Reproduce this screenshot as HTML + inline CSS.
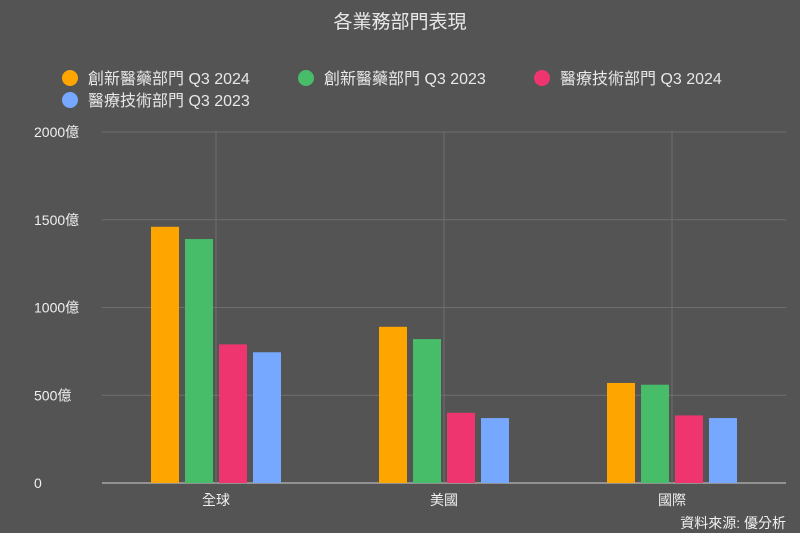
<!DOCTYPE html>
<html><head><meta charset="utf-8"><style>
body{margin:0;background:#545454;}
svg{display:block;font-family:"Liberation Sans","Noto Sans CJK TC",sans-serif;}
</style></head><body>
<svg id="chart" width="800" height="533">
<rect width="800" height="533" fill="#545454"/>
<text x="400" y="28" text-anchor="middle" font-size="19" fill="#e8e8e8">各業務部門表現</text>
<g id="legend"></g>
<g id="grid"></g><g id="bars"></g><g id="labels"></g>
<text x="786" y="528" text-anchor="end" font-size="14" fill="#f0f0f0">資料來源: 優分析</text>
</svg>
<script>
const categories=["全球","美國","國際"];
const seriesNames=["創新醫藥部門 Q3 2024","創新醫藥部門 Q3 2023","醫療技術部門 Q3 2024","醫療技術部門 Q3 2023"];
const s1=[1460,890,570];
const s2=[1390,820,560];
const s3=[790,400,385];
const s4=[745,370,370];
const yTicks=[0,500,1000,1500,2000];
const yTickLabels=["0","500億","1000億","1500億","2000億"];
const colors=["#ffa500","#47bd6a","#ee3570","#77a8ff"];
const series=[s1,s2,s3,s4];
const NS="http://www.w3.org/2000/svg";
const x0=102,x1=786,y0=483,y1=132,ymax=2000;
const y=v=>y0-(v/ymax)*(y0-y1);
const band=(x1-x0)/categories.length;
const xc=i=>x0+band*(i+0.5);
function mk(tag,attrs,parent){const e=document.createElementNS(NS,tag);for(const k in attrs)e.setAttribute(k,attrs[k]);document.getElementById(parent).appendChild(e);return e;}
yTicks.forEach((t,i)=>{
 const l=mk('line',{x1:x0,x2:x1,y1:y(t),y2:y(t),stroke:i==0?'#d0d0d0':'#6e6e6e','stroke-width':1},'grid');
 
 
 const tx=mk('text',{x:34,y:y(t)+5,'font-size':14,fill:'#f0f0f0'},'labels');
 
 
 tx.textContent=yTickLabels[i];
});
categories.forEach((c,i)=>{
 const l=mk('line',{x1:xc(i),x2:xc(i),y1:y1,y2:y0,stroke:'#6e6e6e','stroke-width':1},'grid');
 
 
 const tx=mk('text',{x:xc(i),y:505,'font-size':14,fill:'#f0f0f0','text-anchor':'middle'},'labels');
 
 
 tx.textContent=c;
 series.forEach((s,j)=>{
  const bw=28,gap=6;
  const bx=xc(i)-(4*bw+3*gap)/2+j*(bw+gap);
  const r=mk('rect',{x:bx,y:y(s[i]),width:bw,height:y0-y(s[i]),fill:colors[j]},'bars');
  
  
 });
});
const lpos=[[70,78],[306,78],[542,78],[70,100]];
seriesNames.forEach((n,j)=>{
 const c=mk('circle',{cx:lpos[j][0],cy:lpos[j][1],r:8,fill:colors[j]},'legend');
 
 
 const t=mk('text',{x:lpos[j][0]+18,y:lpos[j][1]+6,'font-size':16,fill:'#e8e8e8'},'legend');
 
 
 t.textContent=n;
});
</script>
</body></html>
